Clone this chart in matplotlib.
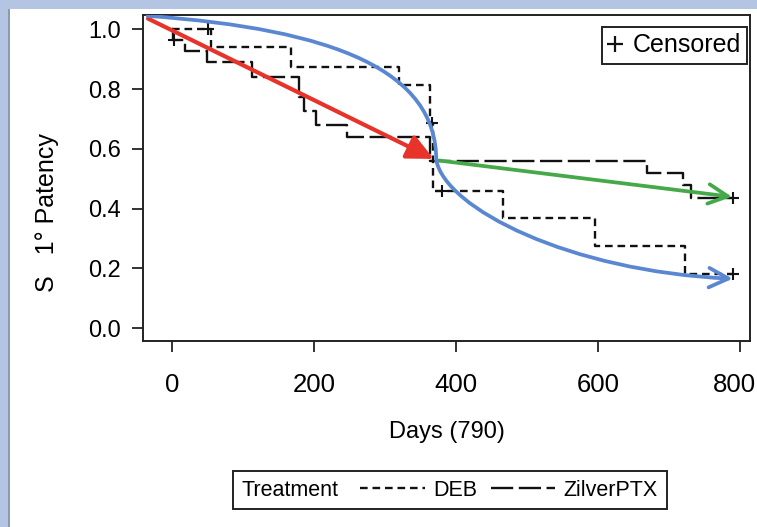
import matplotlib
matplotlib.use("Agg")
import matplotlib.pyplot as plt
from matplotlib.lines import Line2D
from matplotlib.patches import FancyArrowPatch, Rectangle
from matplotlib.path import Path
from matplotlib.offsetbox import HPacker
from matplotlib.transforms import ScaledTranslation

# Kaplan-Meier steps
deb_days = [0, 55, 167, 319, 363, 368, 466, 596, 723, 790]
deb_surv = [1.0, 0.94, 0.875, 0.815, 0.687, 0.46, 0.367, 0.276, 0.182, 0.182]
deb_cens_days = [50, 366, 380, 790]
deb_cens_surv = [1.0, 0.687, 0.46, 0.182]

zil_days = [0, 1, 17, 49, 112, 178, 185, 202, 246, 363, 669, 720, 731, 790]
zil_surv = [1.0, 0.963, 0.926, 0.889, 0.842, 0.775, 0.725, 0.68, 0.64, 0.56,
            0.518, 0.478, 0.435, 0.435]
zil_cens_days = [2, 790]
zil_cens_surv = [0.963, 0.435]

# hand-drawn trend arrows (data coords)
red_days = [-38, 372]
red_surv = [1.04, 0.562]
green_days = [372, 793]
green_surv = [0.562, 0.438]
blue_days = [-35, 230, 372, 372, 385, 560, 790]
blue_surv = [1.045, 1.0, 0.86, 0.562, 0.40, 0.19, 0.165]

x_ticks = [0, 200, 400, 600, 800]
y_ticks = [0.0, 0.2, 0.4, 0.6, 0.8, 1.0]

plt.rcParams['font.family'] = ['Liberation Sans', 'DejaVu Sans']
plt.rcParams['lines.scale_dashes'] = False

W, H = 757, 527
fig = plt.figure(figsize=(W / 100, H / 100), dpi=100)
fig.patch.set_facecolor('white')
# screenshot border
fig.patches.append(Rectangle((0, 0), 8 / W, 1, transform=fig.transFigure,
                             facecolor='#b3c5e3', edgecolor='none'))
fig.patches.append(Rectangle((0, 1 - 9 / H), 1, 9 / H, transform=fig.transFigure,
                             facecolor='#b3c5e3', edgecolor='none'))
fig.patches.append(Rectangle((8 / W, 0), 1.5 / W, 1 - 9 / H, transform=fig.transFigure,
                             facecolor='#8f9aa8', edgecolor='none'))

ax = fig.add_axes([143 / W, 1 - 341 / H, (750 - 143) / W, (341 - 15) / H])
ax.set_xlim(-41.6, 814.5)
ax.set_ylim(-0.0435, 1.048)

deb_line, = ax.plot(deb_days, deb_surv, drawstyle='steps-post', color='#111111',
                    lw=1.7, dashes=(5.5, 3.5))
zil_line, = ax.plot(zil_days, zil_surv, drawstyle='steps-post', color='#111111',
                    lw=1.7, dashes=(16, 4))
ax.plot(deb_cens_days, deb_cens_surv, ls='none', marker='+', ms=8, mew=1.5, color='#111111')
ax.plot(zil_cens_days, zil_cens_surv, ls='none', marker='+', ms=8, mew=1.5, color='#111111')

# trend arrows
red = FancyArrowPatch((red_days[0], red_surv[0]), (red_days[1], red_surv[1]),
                      arrowstyle='-|>,head_length=0.8,head_width=0.38',
                      mutation_scale=20, color='#e8332b', lw=3.0, zorder=5)
ax.add_patch(red)
green = FancyArrowPatch((green_days[0], green_surv[0]), (green_days[1], green_surv[1]),
                        arrowstyle='->,head_length=0.7,head_width=0.35',
                        mutation_scale=20, color='#45a94a', lw=2.7, zorder=5)
ax.add_patch(green)
codes = [Path.MOVETO] + [Path.CURVE4] * 6
blue_path = Path(list(zip(blue_days, blue_surv)), codes)
blue = FancyArrowPatch(path=blue_path, arrowstyle='->,head_length=0.7,head_width=0.35',
                       mutation_scale=20, color='#5a87d2', lw=2.7, zorder=5,
                       transform=ax.transData)
ax.add_patch(blue)

for s in ax.spines.values():
    s.set_color('#222222')
    s.set_linewidth(1.4)
ax.set_xticks(x_ticks)
ax.set_yticks(y_ticks)
ax.set_yticklabels([f'{v:.1f}' for v in y_ticks])
ax.tick_params(axis='both', direction='out', length=8, width=1.3, color='#222222')
ax.tick_params(axis='x', pad=15, labelsize=18.5)
ax.tick_params(axis='y', pad=8, labelsize=17)
last = ax.get_xticklabels()[-1]
last.set_transform(last.get_transform() + ScaledTranslation(-4 / 72, 0, fig.dpi_scale_trans))

ax.set_xlabel('Days (790)', fontsize=17)
ax.xaxis.set_label_coords(0.5, -0.245)
ax.set_ylabel('S   1\u00b0 Patency', fontsize=18)
ax.yaxis.set_label_coords(-0.138, 0.393)

# censored legend
cens = Line2D([], [], ls='none', marker='+', ms=12, mew=1.6, color='#111111')
leg1 = ax.legend([cens], ['Censored'], loc='upper right', bbox_to_anchor=(0.995, 0.963),
                 borderaxespad=0, handlelength=0.5, handletextpad=0.45, borderpad=0.25,
                 fancybox=False, framealpha=1, edgecolor='#222222', fontsize=18)
leg1.get_frame().set_linewidth(1.4)

# treatment legend at the bottom, title on the left
leg2 = fig.legend([deb_line, zil_line], ['DEB', 'ZilverPTX'], title='Treatment',
                  ncol=2, loc='center', bbox_to_anchor=(450 / W, 1 - 490 / H),
                  handlelength=3.0, handletextpad=0.4, columnspacing=0.6, borderpad=0.4,
                  fancybox=False, framealpha=1, edgecolor='#222222', fontsize=15.5,
                  title_fontsize=15.5)
leg2.get_frame().set_linewidth(1.4)
fs = leg2._fontsize
box = HPacker(pad=leg2.borderpad * fs, sep=1.0 * fs, align='baseline',
              children=[leg2._legend_title_box, leg2._legend_handle_box])
box.set_figure(fig)
box.set_offset(leg2._findoffset)
leg2._legend_box = box

fig.savefig('out.png', dpi=100)
